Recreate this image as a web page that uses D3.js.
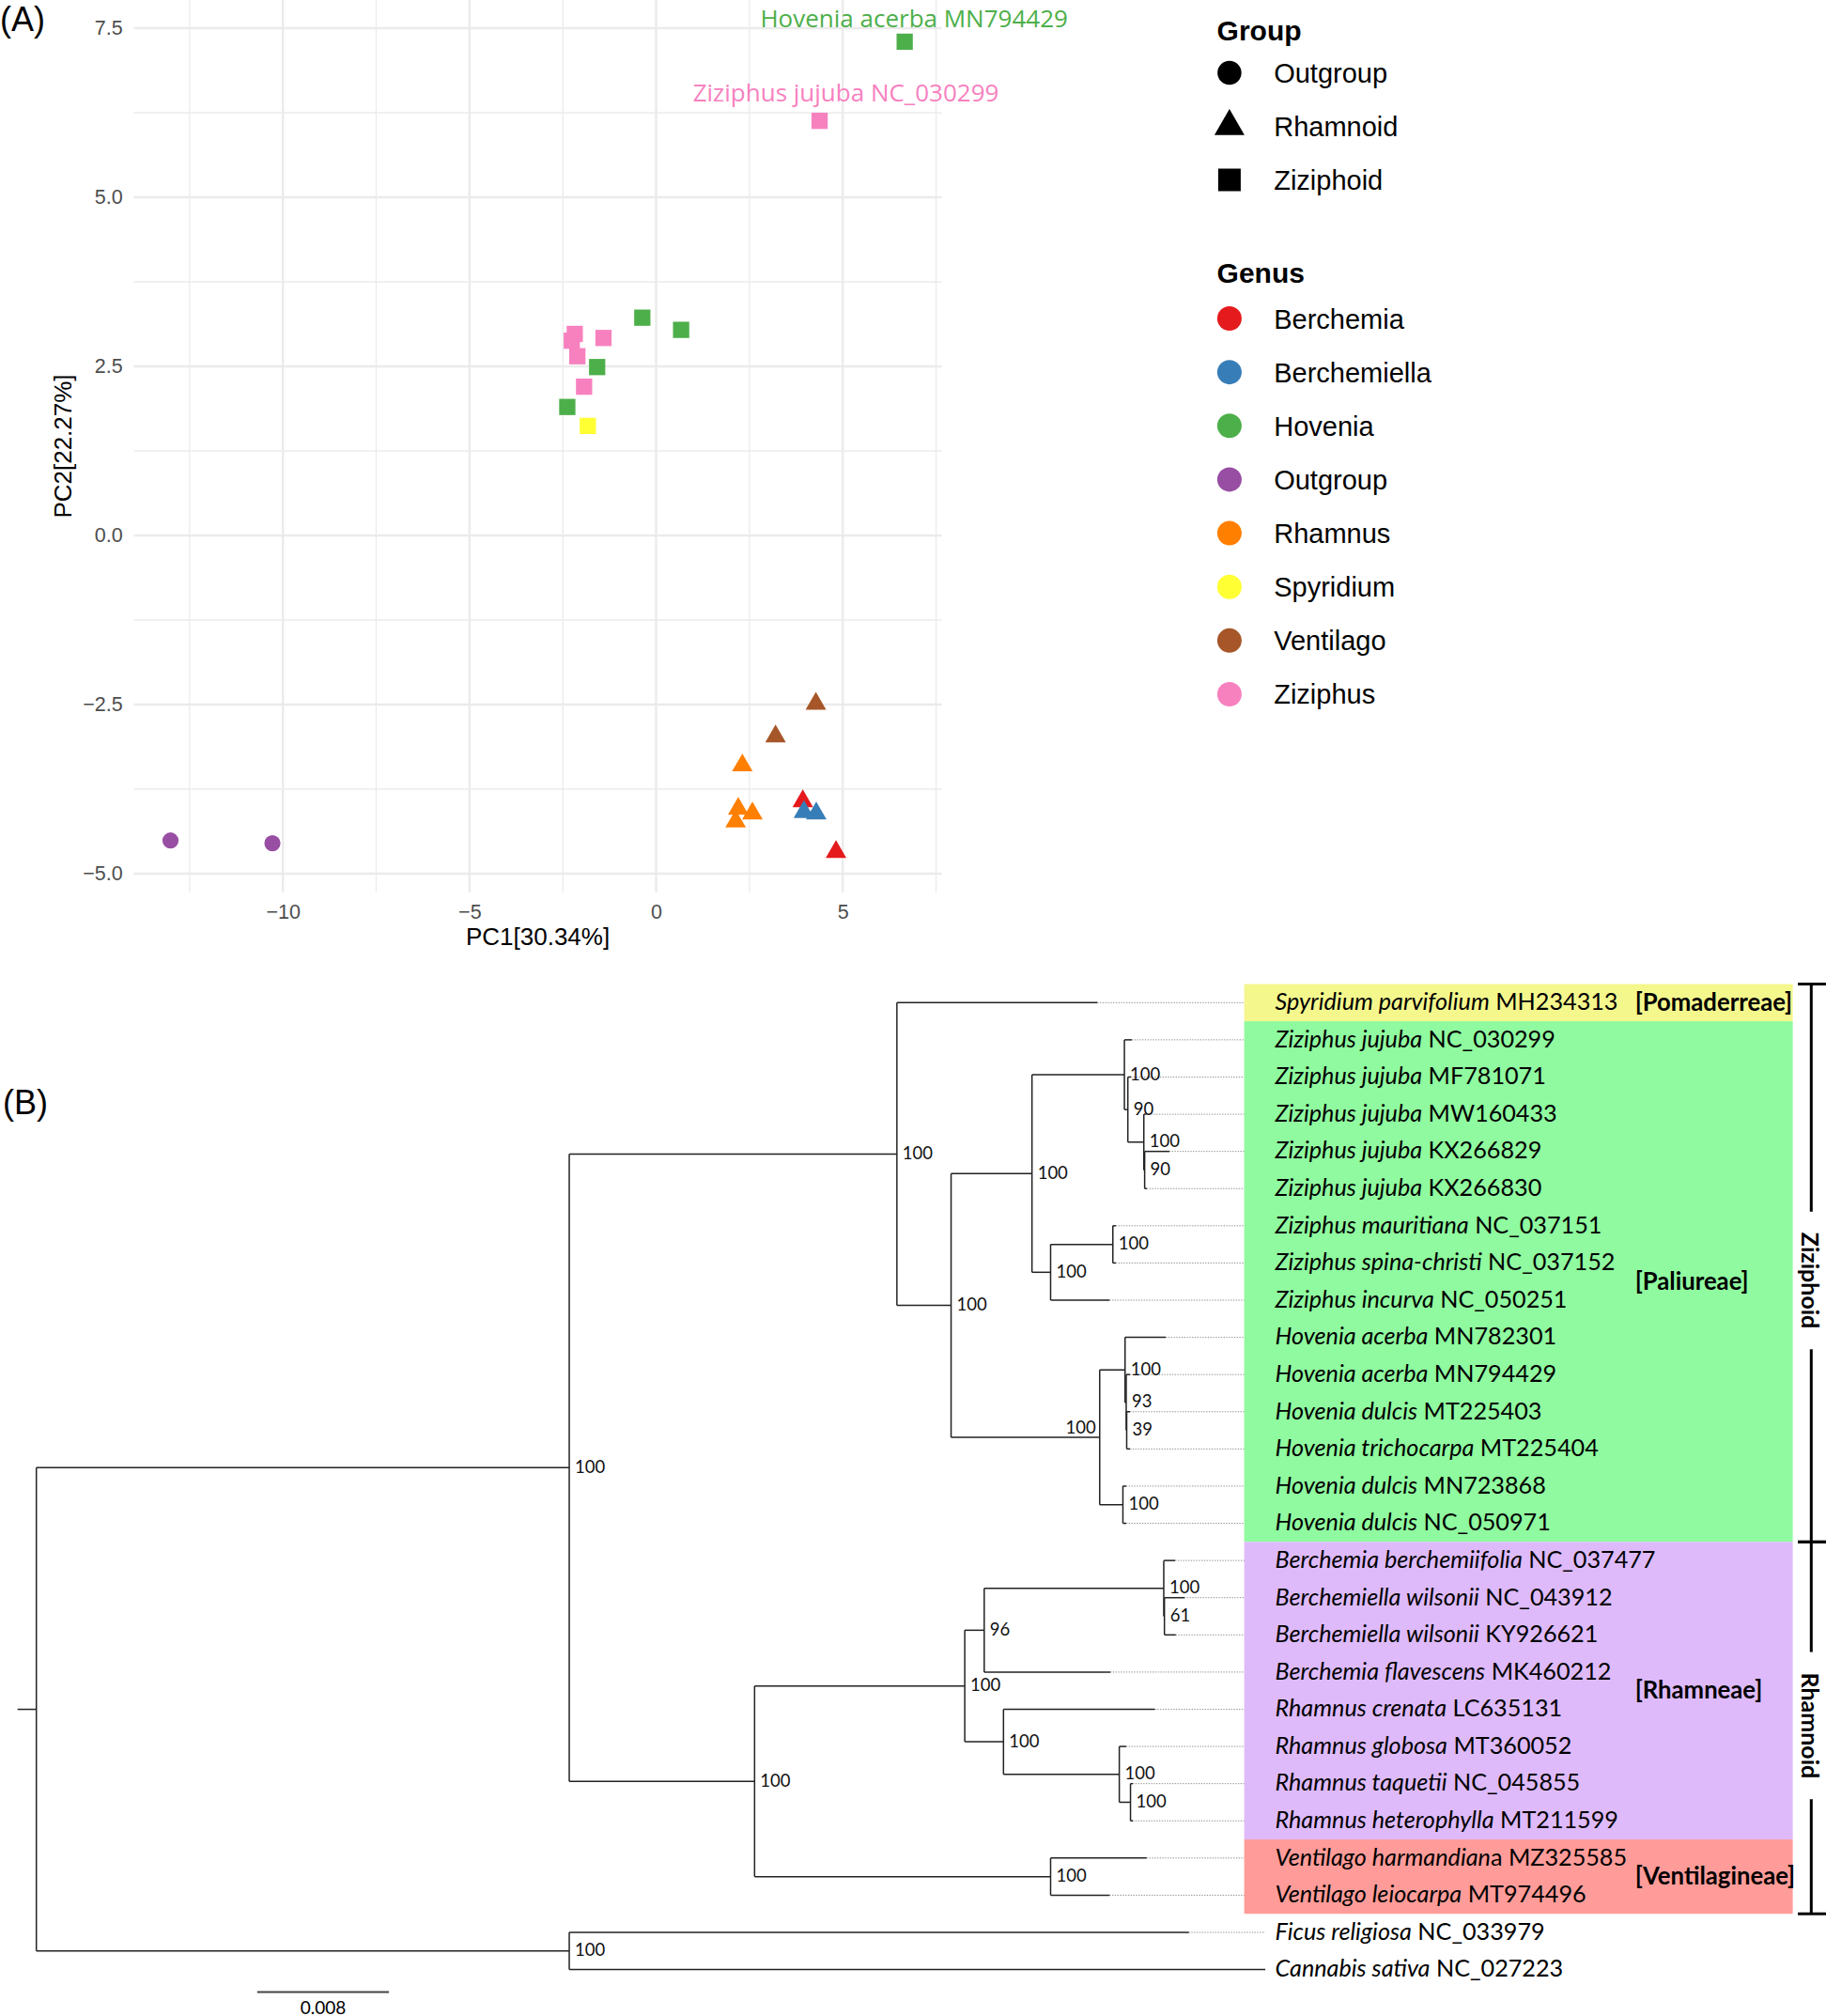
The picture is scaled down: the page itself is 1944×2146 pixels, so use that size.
<!DOCTYPE html>
<html><head><meta charset="utf-8">
<script src="https://cdn.jsdelivr.net/npm/d3@7"></script>
<style>
body{margin:0;background:#fff;}
svg{display:block;}
</style></head><body>
<svg id="c" width="1944" height="2146"></svg>
<script>
// ================= Panel A data (PCA) =================
const genusNames  = ["Berchemia","Berchemiella","Hovenia","Outgroup","Rhamnus","Spyridium","Ventilago","Ziziphus"];
const genusColors = ["#E41A1C","#377EB8","#4DAF4A","#984EA3","#FF7F00","#FFFF33","#A65628","#F781BF"];
const groupNames  = ["Outgroup","Rhamnoid","Ziziphoid"];

const pointGenus = ["Outgroup","Outgroup","Rhamnus","Rhamnus","Rhamnus","Rhamnus","Ventilago","Ventilago",
  "Berchemia","Berchemia","Berchemiella","Berchemiella","Spyridium",
  "Hovenia","Hovenia","Hovenia","Hovenia","Hovenia",
  "Ziziphus","Ziziphus","Ziziphus","Ziziphus","Ziziphus","Ziziphus"];
const pointGroup = ["Outgroup","Outgroup","Rhamnoid","Rhamnoid","Rhamnoid","Rhamnoid","Rhamnoid","Rhamnoid",
  "Rhamnoid","Rhamnoid","Rhamnoid","Rhamnoid","Ziziphoid",
  "Ziziphoid","Ziziphoid","Ziziphoid","Ziziphoid","Ziziphoid",
  "Ziziphoid","Ziziphoid","Ziziphoid","Ziziphoid","Ziziphoid","Ziziphoid"];
const pc1 = [-13.01,-10.28, 2.31, 2.20, 2.58, 2.13, 4.28, 3.20,
  3.93, 4.82, 3.96, 4.29,-1.83,
  6.66,-0.37, 0.67,-1.58,-2.38,
  4.38,-2.18,-2.26,-1.41,-2.11,-1.93];
const pc2 = [-4.51,-4.55,-3.40,-4.04,-4.11,-4.23,-2.49,-2.97,
  -3.93,-4.68,-4.09,-4.11, 1.62,
  7.30, 3.22, 3.04, 2.49, 1.90,
  6.13, 2.98, 2.88, 2.92, 2.65, 2.20];
const labelIndex = [13, 18];
const labelText  = ["Hovenia acerba MN794429","Ziziphus jujuba NC_030299"];

const xTicks = [-10,-5,0,5];
const xMinor = [-12.5,-7.5,-2.5,2.5,7.5];
const yTicks = [-5,-2.5,0,2.5,5,7.5];
const yMinor = [-3.75,-1.25,1.25,3.75,6.25];

// ================= Panel B data (tree) =================
const tipItalic = ["Spyridium parvifolium","Ziziphus jujuba","Ziziphus jujuba","Ziziphus jujuba","Ziziphus jujuba",
  "Ziziphus jujuba","Ziziphus mauritiana","Ziziphus spina-christi","Ziziphus incurva","Hovenia acerba",
  "Hovenia acerba","Hovenia dulcis","Hovenia trichocarpa","Hovenia dulcis","Hovenia dulcis",
  "Berchemia berchemiifolia","Berchemiella wilsonii","Berchemiella wilsonii","Berchemia flavescens","Rhamnus crenata",
  "Rhamnus globosa","Rhamnus taquetii","Rhamnus heterophylla","Ventilago harmandian","Ventilago leiocarpa",
  "Ficus religiosa","Cannabis sativa"];
const tipPlain = [" MH234313"," NC_030299"," MF781071"," MW160433"," KX266829",
  " KX266830"," NC_037151"," NC_037152"," NC_050251"," MN782301",
  " MN794429"," MT225403"," MT225404"," MN723868"," NC_050971",
  " NC_037477"," NC_043912"," KY926621"," MK460212"," LC635131",
  " MT360052"," NC_045855"," MT211599","a MZ325585"," MT974496",
  " NC_033979"," NC_027223"];

// [node id, parent id, branch length (subst./site), bootstrap]
const treeEdges = [
 ["root","",0,null],
 ["ING","root",0.03235,100],
 ["OUT","root",0.03235,100],
 ["ZIZ","ING",0.01989,100],
 ["RH","ING",0.01125,100],
 ["t0","ZIZ",0.01217,null],
 ["PAL","ZIZ",0.00329,100],
 ["ZZ","PAL",0.00491,100],
 ["F","PAL",0.00902,100],
 ["A","ZZ",0.00561,100],
 ["E","ZZ",0.00113,100],
 ["t1","A",0.00045,null],
 ["B","A",0.00021,90],
 ["t2","B",0.00019,null],
 ["C","B",0.00097,100],
 ["t3","C",0.00013,null],
 ["D","C",0.00005,90],
 ["t4","D",0.00150,null],
 ["t5","D",0.00013,null],
 ["MS","E",0.00378,100],
 ["t6","MS",0.00018,null],
 ["t7","MS",0.00018,null],
 ["t8","E",0.00358,null],
 ["G","F",0.00154,100],
 ["t9","G",0.00247,null],
 ["H","G",0.00007,93],
 ["t10","H",0.00023,null],
 ["I","H",0.00003,39],
 ["t11","I",0.00020,null],
 ["t12","I",0.00020,null],
 ["J","F",0.00141,100],
 ["t13","J",0.00020,null],
 ["t14","J",0.00020,null],
 ["L","RH",0.01276,100],
 ["N","L",0.00118,96],
 ["P","N",0.01090,100],
 ["t15","P",0.00069,null],
 ["Q","P",0.00004,61],
 ["t16","Q",0.00122,null],
 ["t17","Q",0.00069,null],
 ["t18","N",0.00766,null],
 ["O","L",0.00235,100],
 ["t19","O",0.00919,null],
 ["R","O",0.00703,100],
 ["t20","R",0.00042,null],
 ["S","R",0.00068,100],
 ["t21","S",0.00014,null],
 ["t22","S",0.00014,null],
 ["M","RH",0.01797,100],
 ["t23","M",0.00583,null],
 ["t24","M",0.00358,null],
 ["t25","OUT",0.03761,null],
 ["t26","OUT",0.04225,null]
];
const supportLeft = ["F"];

const tribeNames  = ["[Pomaderreae]","[Paliureae]","[Rhamneae]","[Ventilagineae]"];
const tribeFrom   = [0,1,15,23];
const tribeTo     = [0,14,22,24];
const tribeColors = ["#F4F78C","#8FFA9F","#DEBAFA","#FF9C99"];

const cladeNames = ["Ziziphoid","Rhamnoid"];
const cladeFrom  = [0,15];
const cladeTo    = [14,24];
const cladeLabelAt = [7.47,19.44];   // label position in tip-row units

const scaleBarValue = 0.008;

// ================= drawing =================
const svg = d3.select("#c");
const SANS = "'Liberation Sans', Arial, sans-serif";
const TREEF = "Lato, 'Open Sans', sans-serif";

svg.append("rect").attr("width",1944).attr("height",2146).attr("fill","#fff");

// ---------- Panel A ----------
const pL=142.6, pR=1002.5, pT=0, pB=950;
const xA = d3.scaleLinear().domain([-13.99,7.65]).range([pL,pR]);
const yA = d3.scaleLinear().domain([-5.278,7.917]).range([pB,pT]);
const gA = svg.append("g");

gA.selectAll(".vmin").data(xMinor).join("line")
  .attr("x1",d=>xA(d)).attr("x2",d=>xA(d)).attr("y1",pT).attr("y2",pB)
  .attr("stroke","#EBEBEB").attr("stroke-width",1.3);
gA.selectAll(".hmin").data(yMinor).join("line")
  .attr("y1",d=>yA(d)).attr("y2",d=>yA(d)).attr("x1",pL).attr("x2",pR)
  .attr("stroke","#EBEBEB").attr("stroke-width",1.3);
gA.selectAll(".vmaj").data(xTicks).join("line")
  .attr("x1",d=>xA(d)).attr("x2",d=>xA(d)).attr("y1",pT).attr("y2",pB)
  .attr("stroke","#EBEBEB").attr("stroke-width",2.4);
gA.selectAll(".hmaj").data(yTicks).join("line")
  .attr("y1",d=>yA(d)).attr("y2",d=>yA(d)).attr("x1",pL).attr("x2",pR)
  .attr("stroke","#EBEBEB").attr("stroke-width",2.4);

const axX = gA.append("g").attr("transform",`translate(0,${pB})`)
  .call(d3.axisBottom(xA).tickValues(xTicks).tickSize(0).tickPadding(13).tickFormat(d3.format("d")));
const axY = gA.append("g").attr("transform",`translate(${pL},0)`)
  .call(d3.axisLeft(yA).tickValues(yTicks).tickSize(0).tickPadding(12).tickFormat(d3.format(".1f")));
[axX,axY].forEach(a=>{
  a.select(".domain").remove();
  a.selectAll("text").attr("fill","#4D4D4D").style("font-family",SANS).style("font-size","21.5px");
});

gA.append("text").attr("x",(pL+pR)/2).attr("y",1006).attr("text-anchor","middle")
  .style("font-family",SANS).style("font-size","26px").attr("fill","#000").text("PC1[30.34%]");
gA.append("text").attr("transform",`translate(76,${(pT+pB)/2}) rotate(-90)`).attr("text-anchor","middle")
  .style("font-family",SANS).style("font-size","26px").attr("fill","#000").text("PC2[22.27%]");

const shapeOf = {Outgroup:d3.symbolCircle, Rhamnoid:d3.symbolTriangle, Ziziphoid:d3.symbolSquare};
const sizeOf  = {Outgroup:232, Rhamnoid:208, Ziziphoid:299};
const colorOf = d3.scaleOrdinal().domain(genusNames).range(genusColors);

gA.selectAll(".pt").data(pc1.map((v,i)=>i)).join("path")
  .attr("transform",i=>`translate(${xA(pc1[i])},${yA(pc2[i])})`)
  .attr("d",i=>d3.symbol().type(shapeOf[pointGroup[i]]).size(sizeOf[pointGroup[i]])())
  .attr("fill",i=>colorOf(pointGenus[i]));

const labelOffset = [[10,-15.5],[28,-20.5]];
gA.selectAll(".lbl").data(labelIndex).join("text")
  .attr("x",(d,k)=>xA(pc1[d])+labelOffset[k][0])
  .attr("y",(d,k)=>yA(pc2[d])+labelOffset[k][1])
  .attr("text-anchor","middle")
  .style("font-family","'Open Sans', sans-serif").style("font-size","26px")
  .attr("fill",d=>colorOf(pointGenus[d]))
  .text((d,k)=>labelText[k]);

gA.append("text").attr("x",0).attr("y",33).style("font-family",SANS).style("font-size","36px").text("(A)");

// legend
const lg = svg.append("g");
const lgSymX=1308.9, lgTxtX=1356.2, lgTitleX=1295.6;
lg.append("text").attr("x",lgTitleX).attr("y",43).style("font-family",SANS).style("font-weight","bold")
  .style("font-size","30px").text("Group");
const legShapeSize = {Outgroup:510, Rhamnoid:443, Ziziphoid:576};
groupNames.forEach((g,k)=>{
  const cy = 77.5 + 57*k;
  lg.append("path").attr("transform",`translate(${lgSymX},${cy})`)
    .attr("d",d3.symbol().type(shapeOf[g]).size(legShapeSize[g])()).attr("fill","#000");
  lg.append("text").attr("x",lgTxtX).attr("y",cy+10.5).style("font-family",SANS).style("font-size","29px").text(g);
});
lg.append("text").attr("x",lgTitleX).attr("y",301).style("font-family",SANS).style("font-weight","bold")
  .style("font-size","30px").text("Genus");
genusNames.forEach((g,k)=>{
  const cy = 339 + 57.14*k;
  lg.append("path").attr("transform",`translate(${lgSymX},${cy})`)
    .attr("d",d3.symbol().type(d3.symbolCircle).size(531)()).attr("fill",colorOf(g));
  lg.append("text").attr("x",lgTxtX).attr("y",cy+10.5).style("font-family",SANS).style("font-size","29px").text(g);
});

// ---------- Panel B ----------
const gB = svg.append("g");
gB.append("text").attr("x",3).attr("y",1186).style("font-family",SANS).style("font-size","36px").text("(B)");

const tipY = d3.scaleLinear().domain([0,26]).range([1067.3,2096.6]);
const step = tipY(1)-tipY(0);
const xT = d3.scaleLinear().domain([0,scaleBarValue]).range([38.7,179.0]);

const root = d3.stratify().id(d=>d[0]).parentId(d=>d[1]||null)(treeEdges);
root.eachBefore(n=>{ n.len=(n.parent?n.parent.len:0)+n.data[2]; });
root.eachAfter(n=>{
  if(!n.children){ n.yy = tipY(+n.id.slice(1)); }
  else { const ys=n.children.map(c=>c.yy); n.yy=(d3.min(ys)+d3.max(ys))/2; }
});
const maxLen = d3.max(root.leaves(),d=>d.len);
const nodes = root.descendants();

// dotted tip extensions
gB.selectAll(".dot").data(root.leaves()).join("line")
  .attr("x1",d=>xT(d.len)).attr("x2",xT(maxLen)).attr("y1",d=>d.yy).attr("y2",d=>d.yy)
  .attr("stroke","#8a8a8a").attr("stroke-width",1).attr("stroke-dasharray","1.3,1.5");
// horizontal branches
gB.selectAll(".hb").data(nodes.filter(n=>n.parent)).join("line")
  .attr("x1",d=>xT(d.parent.len)).attr("x2",d=>xT(d.len)).attr("y1",d=>d.yy).attr("y2",d=>d.yy)
  .attr("stroke","#222").attr("stroke-width",1.5);
// vertical connectors
gB.selectAll(".vb").data(nodes.filter(n=>n.children)).join("line")
  .attr("x1",d=>xT(d.len)).attr("x2",d=>xT(d.len))
  .attr("y1",d=>d3.min(d.children,c=>c.yy)).attr("y2",d=>d3.max(d.children,c=>c.yy))
  .attr("stroke","#222").attr("stroke-width",1.5);
// root stub
gB.append("line").attr("x1",xT(0)-20).attr("x2",xT(0)).attr("y1",root.yy).attr("y2",root.yy)
  .attr("stroke","#222").attr("stroke-width",1.5);

// support values
gB.selectAll(".sup").data(nodes.filter(n=>n.data[3]!=null)).join("text")
  .attr("x",d=>supportLeft.includes(d.id)? xT(d.len)-4 : xT(d.len)+6)
  .attr("y",d=>supportLeft.includes(d.id)? d.yy-4 : d.yy+5.5)
  .attr("text-anchor",d=>supportLeft.includes(d.id)?"end":"start")
  .style("font-family",TREEF).style("font-size","18.5px").attr("fill","#111")
  .text(d=>d.data[3]);

// tribe boxes
const boxL=1324.6, boxR=1908.6;
tribeNames.forEach((t,k)=>{
  const y0=tipY(tribeFrom[k])-step/2, y1=tipY(tribeTo[k])+step/2;
  gB.append("rect").attr("x",boxL).attr("y",y0).attr("width",boxR-boxL).attr("height",y1-y0).attr("fill",tribeColors[k]);
});
tribeNames.forEach((t,k)=>{
  const yc=(tipY(tribeFrom[k])+tipY(tribeTo[k]))/2;
  gB.append("text").attr("x",1740.7).attr("y",yc+8.5).style("font-family",TREEF).style("font-weight","bold")
    .style("font-size","25.7px").attr("fill","#000").text(t);
});

// tip labels
const tl = gB.selectAll(".tip").data(tipItalic.map((d,i)=>i)).join("text")
  .attr("x",1357.5).attr("y",i=>tipY(i)+7.8)
  .style("font-family",TREEF).style("font-size","25.2px").attr("fill","#000");
tl.append("tspan").style("font-style","italic").text(i=>tipItalic[i]);
tl.append("tspan").style("font-style","normal").text(i=>tipPlain[i]);

// clade bars
const barX=1928.3;
cladeNames.forEach((c,k)=>{
  const y0=tipY(cladeFrom[k])-step/2, y1=tipY(cladeTo[k])+step/2;
  const yc=tipY(0)+cladeLabelAt[k]*step;
  const t=gB.append("text").attr("transform",`translate(${barX},${yc}) rotate(90)`)
    .attr("text-anchor","middle").attr("dominant-baseline","central")
    .style("font-family",TREEF).style("font-weight","bold").style("font-size","25px").text(c);
  const half=t.node().getComputedTextLength()/2+22;
  gB.append("line").attr("x1",barX).attr("x2",barX).attr("y1",y0).attr("y2",yc-half).attr("stroke","#000").attr("stroke-width",3);
  gB.append("line").attr("x1",barX).attr("x2",barX).attr("y1",yc+half).attr("y2",y1).attr("stroke","#000").attr("stroke-width",3);
  [y0,y1].forEach(y=>gB.append("line").attr("x1",1914).attr("x2",1944).attr("y1",y).attr("y2",y).attr("stroke","#000").attr("stroke-width",3));
});

// scale bar
const sbX=273.8, sbY=2120.5;
gB.append("line").attr("x1",sbX).attr("x2",sbX+xT(scaleBarValue)-xT(0)).attr("y1",sbY).attr("y2",sbY)
  .attr("stroke","#444").attr("stroke-width",2);
gB.append("text").attr("x",sbX+(xT(scaleBarValue)-xT(0))/2).attr("y",2143.5).attr("text-anchor","middle")
  .style("font-family",TREEF).style("font-size","19px").text(scaleBarValue);
</script>
</body></html>
